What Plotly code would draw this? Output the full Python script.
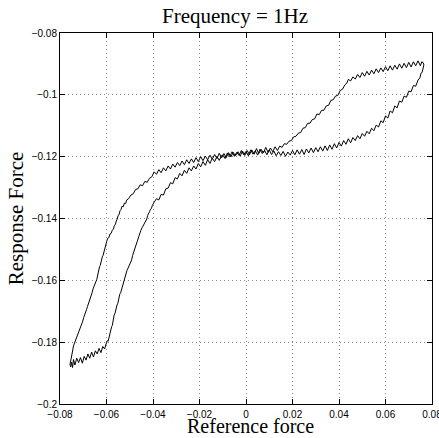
import plotly.graph_objects as go

# (reference force, response force) samples
# Lower branch: force increasing
lower_bottom = [(-0.0750, -0.1865), (-0.0746, -0.1882), (-0.0742, -0.1856), (-0.0736, -0.1874), (-0.0728, -0.1852),
                (-0.0720, -0.1866), (-0.0712, -0.1850), (-0.0704, -0.1868), (-0.0696, -0.1846), (-0.0688, -0.1858),
                (-0.0680, -0.1838), (-0.0672, -0.1852), (-0.0664, -0.1832), (-0.0656, -0.1848), (-0.0648, -0.1828),
                (-0.0640, -0.1838), (-0.0632, -0.1820), (-0.0624, -0.1834), (-0.0616, -0.1814), (-0.0608, -0.1822),
                (-0.0602, -0.1806)]
lower_rise = [(-0.0596, -0.1795), (-0.0593, -0.1797), (-0.0589, -0.1782), (-0.0586, -0.1778), (-0.0582, -0.1762),
              (-0.0578, -0.1750), (-0.0575, -0.1746), (-0.0571, -0.1722), (-0.0567, -0.1712), (-0.0563, -0.1706),
              (-0.0559, -0.1690), (-0.0555, -0.1680), (-0.0551, -0.1674), (-0.0547, -0.1655), (-0.0543, -0.1645),
              (-0.0539, -0.1640), (-0.0535, -0.1628), (-0.0531, -0.1618), (-0.0527, -0.1608), (-0.0524, -0.1595),
              (-0.0520, -0.1590), (-0.0516, -0.1575), (-0.0512, -0.1568), (-0.0507, -0.1560), (-0.0502, -0.1552),
              (-0.0497, -0.1545), (-0.0492, -0.1534), (-0.0488, -0.1520), (-0.0484, -0.1512), (-0.0479, -0.1500),
              (-0.0475, -0.1492), (-0.0470, -0.1480), (-0.0466, -0.1470), (-0.0461, -0.1458), (-0.0457, -0.1447),
              (-0.0452, -0.1438), (-0.0447, -0.1430), (-0.0442, -0.1424), (-0.0437, -0.1416), (-0.0432, -0.1410),
              (-0.0427, -0.1402), (-0.0423, -0.1390), (-0.0419, -0.1385), (-0.0415, -0.1378), (-0.0411, -0.1370),
              (-0.0407, -0.1368), (-0.0403, -0.1358), (-0.0399, -0.1351), (-0.0394, -0.1346)]
lower_bend = [(-0.0385, -0.1336), (-0.0375, -0.1340), (-0.0365, -0.1322), (-0.0355, -0.1324), (-0.0345, -0.1304),
              (-0.0335, -0.1302), (-0.0325, -0.1284), (-0.0315, -0.1288), (-0.0305, -0.1268), (-0.0295, -0.1272),
              (-0.0285, -0.1254), (-0.0275, -0.1262), (-0.0265, -0.1244), (-0.0255, -0.1254), (-0.0245, -0.1236),
              (-0.0235, -0.1246), (-0.0225, -0.1230), (-0.0215, -0.1240), (-0.0205, -0.1222), (-0.0195, -0.1233),
              (-0.0185, -0.1216), (-0.0175, -0.1228), (-0.0165, -0.1210), (-0.0155, -0.1222), (-0.0145, -0.1205),
              (-0.0135, -0.1216), (-0.0125, -0.1200), (-0.0115, -0.1212), (-0.0105, -0.1196)]
lower_middle = [(-0.0100, -0.1195), (-0.0090, -0.1206), (-0.0080, -0.1188), (-0.0070, -0.1200), (-0.0060, -0.1184),
                (-0.0050, -0.1199), (-0.0040, -0.1186), (-0.0030, -0.1196), (-0.0020, -0.1180), (-0.0010, -0.1194),
                (0.0000, -0.1183), (0.0010, -0.1197), (0.0020, -0.1178), (0.0030, -0.1192), (0.0040, -0.1181),
                (0.0050, -0.1195), (0.0060, -0.1176), (0.0070, -0.1190), (0.0080, -0.1180), (0.0090, -0.1194),
                (0.0100, -0.1178), (0.0110, -0.1193), (0.0120, -0.1182), (0.0130, -0.1197), (0.0140, -0.1184),
                (0.0150, -0.1196), (0.0160, -0.1183), (0.0170, -0.1199), (0.0180, -0.1185), (0.0190, -0.1195),
                (0.0200, -0.1180), (0.0210, -0.1194), (0.0220, -0.1178), (0.0230, -0.1192), (0.0240, -0.1177),
                (0.0250, -0.1193), (0.0260, -0.1175), (0.0270, -0.1188), (0.0280, -0.1172), (0.0290, -0.1187),
                (0.0300, -0.1171), (0.0310, -0.1184), (0.0320, -0.1168), (0.0330, -0.1182), (0.0340, -0.1165),
                (0.0350, -0.1180), (0.0360, -0.1162), (0.0370, -0.1176), (0.0380, -0.1158), (0.0390, -0.1172),
                (0.0400, -0.1154), (0.0410, -0.1166), (0.0420, -0.1148), (0.0430, -0.1160), (0.0440, -0.1142),
                (0.0450, -0.1155), (0.0460, -0.1138), (0.0470, -0.1148), (0.0480, -0.1132), (0.0490, -0.1142),
                (0.0500, -0.1125), (0.0510, -0.1134)]
lower_right = [(0.0520, -0.1118), (0.0530, -0.1126), (0.0540, -0.1108), (0.0550, -0.1116), (0.0560, -0.1098),
               (0.0570, -0.1104), (0.0580, -0.1084), (0.0590, -0.1090), (0.0600, -0.1068), (0.0610, -0.1075),
               (0.0620, -0.1052), (0.0630, -0.1058), (0.0640, -0.1036), (0.0650, -0.1042), (0.0660, -0.1020),
               (0.0670, -0.1024), (0.0680, -0.1004), (0.0690, -0.1008), (0.0700, -0.0988), (0.0710, -0.0990),
               (0.0720, -0.0970), (0.0730, -0.0972), (0.0740, -0.0952), (0.0748, -0.0945), (0.0752, -0.0932),
               (0.0758, -0.0926), (0.0762, -0.0912), (0.0765, -0.0903), (0.0762, -0.0896), (0.0756, -0.0893)]

# Upper branch: force decreasing
upper_top = [(0.0750, -0.0906), (0.0740, -0.0890), (0.0730, -0.0906), (0.0720, -0.0893), (0.0710, -0.0910),
             (0.0700, -0.0895), (0.0690, -0.0912), (0.0680, -0.0898), (0.0670, -0.0914), (0.0660, -0.0900),
             (0.0650, -0.0917), (0.0640, -0.0904), (0.0630, -0.0920), (0.0620, -0.0906), (0.0610, -0.0922),
             (0.0600, -0.0909), (0.0590, -0.0925), (0.0580, -0.0913), (0.0570, -0.0928), (0.0560, -0.0916),
             (0.0550, -0.0932), (0.0540, -0.0920), (0.0530, -0.0936), (0.0520, -0.0924), (0.0510, -0.0940),
             (0.0500, -0.0928), (0.0490, -0.0944), (0.0480, -0.0934), (0.0470, -0.0949), (0.0460, -0.0942),
             (0.0450, -0.0955), (0.0440, -0.0950), (0.0434, -0.0962)]
upper_descent = [(0.0425, -0.0968), (0.0415, -0.0982), (0.0405, -0.0986), (0.0395, -0.1002), (0.0385, -0.1004),
                 (0.0375, -0.1016), (0.0365, -0.1018), (0.0355, -0.1034), (0.0345, -0.1036), (0.0335, -0.1050),
                 (0.0325, -0.1050), (0.0315, -0.1064), (0.0305, -0.1062), (0.0295, -0.1078), (0.0285, -0.1080),
                 (0.0275, -0.1092), (0.0265, -0.1092), (0.0255, -0.1106), (0.0245, -0.1108), (0.0235, -0.1122),
                 (0.0225, -0.1124), (0.0215, -0.1134), (0.0205, -0.1136), (0.0195, -0.1148), (0.0185, -0.1150),
                 (0.0175, -0.1160), (0.0165, -0.1158), (0.0155, -0.1170), (0.0145, -0.1166)]
upper_middle = [(0.0135, -0.1180), (0.0125, -0.1168), (0.0115, -0.1184), (0.0105, -0.1172), (0.0095, -0.1186),
                (0.0085, -0.1170), (0.0075, -0.1188), (0.0065, -0.1176), (0.0055, -0.1190), (0.0045, -0.1174),
                (0.0035, -0.1192), (0.0025, -0.1178), (0.0015, -0.1194), (0.0005, -0.1180), (-0.0005, -0.1196),
                (-0.0015, -0.1182), (-0.0025, -0.1198), (-0.0035, -0.1184), (-0.0045, -0.1197), (-0.0055, -0.1186),
                (-0.0065, -0.1201), (-0.0075, -0.1187), (-0.0085, -0.1203), (-0.0095, -0.1190), (-0.0105, -0.1204),
                (-0.0115, -0.1189), (-0.0125, -0.1206), (-0.0135, -0.1193), (-0.0145, -0.1208), (-0.0155, -0.1195),
                (-0.0165, -0.1210), (-0.0175, -0.1198)]
upper_left = [(-0.0185, -0.1213), (-0.0195, -0.1200), (-0.0205, -0.1216), (-0.0215, -0.1203), (-0.0225, -0.1219),
              (-0.0235, -0.1207), (-0.0245, -0.1222), (-0.0255, -0.1210), (-0.0265, -0.1226), (-0.0275, -0.1214),
              (-0.0285, -0.1229), (-0.0295, -0.1219), (-0.0305, -0.1234), (-0.0315, -0.1224), (-0.0325, -0.1240),
              (-0.0335, -0.1230), (-0.0345, -0.1246), (-0.0355, -0.1236), (-0.0365, -0.1252), (-0.0375, -0.1242),
              (-0.0385, -0.1257), (-0.0395, -0.1249), (-0.0405, -0.1265), (-0.0415, -0.1270), (-0.0425, -0.1283),
              (-0.0435, -0.1280), (-0.0445, -0.1294), (-0.0455, -0.1291), (-0.0465, -0.1304), (-0.0475, -0.1306),
              (-0.0485, -0.1320), (-0.0495, -0.1324), (-0.0505, -0.1336)]
upper_fall = [(-0.0513, -0.1340), (-0.0518, -0.1352), (-0.0523, -0.1350), (-0.0528, -0.1362), (-0.0533, -0.1360),
              (-0.0538, -0.1372), (-0.0542, -0.1375), (-0.0546, -0.1388), (-0.0550, -0.1390), (-0.0554, -0.1402),
              (-0.0558, -0.1408), (-0.0562, -0.1420), (-0.0566, -0.1422), (-0.0570, -0.1434), (-0.0575, -0.1438),
              (-0.0580, -0.1448), (-0.0585, -0.1450), (-0.0590, -0.1462), (-0.0595, -0.1464), (-0.0599, -0.1474),
              (-0.0603, -0.1488), (-0.0606, -0.1492), (-0.0609, -0.1505), (-0.0612, -0.1508), (-0.0615, -0.1520),
              (-0.0618, -0.1524), (-0.0621, -0.1536), (-0.0624, -0.1540), (-0.0627, -0.1552), (-0.0630, -0.1556),
              (-0.0633, -0.1568), (-0.0636, -0.1572), (-0.0639, -0.1585), (-0.0642, -0.1598), (-0.0646, -0.1605),
              (-0.0650, -0.1612), (-0.0654, -0.1622), (-0.0658, -0.1628), (-0.0662, -0.1640), (-0.0666, -0.1648),
              (-0.0670, -0.1660), (-0.0674, -0.1668), (-0.0678, -0.1678), (-0.0682, -0.1685), (-0.0686, -0.1695),
              (-0.0690, -0.1702), (-0.0694, -0.1712), (-0.0698, -0.1720), (-0.0702, -0.1732), (-0.0706, -0.1740),
              (-0.0710, -0.1748), (-0.0714, -0.1755), (-0.0718, -0.1762), (-0.0722, -0.1768), (-0.0726, -0.1778),
              (-0.0730, -0.1786), (-0.0734, -0.1795), (-0.0738, -0.1800), (-0.0742, -0.1812), (-0.0745, -0.1825),
              (-0.0748, -0.1838), (-0.0752, -0.1850), (-0.0755, -0.1862), (-0.0757, -0.1872), (-0.0754, -0.1880),
              (-0.0750, -0.1865)]

x_ticks = [-0.08, -0.06, -0.04, -0.02, 0, 0.02, 0.04, 0.06, 0.08]
x_tick_labels = ["\u22120.08", "\u22120.06", "\u22120.04", "\u22120.02", "0", "0.02", "0.04", "0.06", "0.08"]
y_ticks = [-0.2, -0.18, -0.16, -0.14, -0.12, -0.1, -0.08]
y_tick_labels = ["\u22120.2", "\u22120.18", "\u22120.16", "\u22120.14", "\u22120.12", "\u22120.1", "\u22120.08"]

segments = [lower_bottom, lower_rise, lower_bend, lower_middle, lower_right,
            upper_top, upper_descent, upper_middle, upper_left, upper_fall]
loop = [p for seg in segments for p in seg]
xs = [p[0] for p in loop]
ys = [p[1] for p in loop]

fig = go.Figure()
fig.add_trace(go.Scatter(x=xs, y=ys, mode="lines",
                         line=dict(color="black", width=1), showlegend=False))

serif = "Liberation Serif, Times New Roman, serif"
sans = "Liberation Sans, Arial, sans-serif"

axis_common = dict(showline=True, linecolor="black", linewidth=1, mirror="allticks",
                   ticks="inside", ticklen=5, tickcolor="black", tickwidth=1,
                   showgrid=True, gridcolor="#8c8c8c", griddash="1px,3px", gridwidth=1,
                   zeroline=False, ticklabeloverflow="allow",
                   tickfont=dict(family=sans, size=10, color="black"))

plot_h = 438 - 33 - 34

fig.update_layout(
    width=439, height=438,
    margin=dict(l=60, r=7, t=33, b=34, autoexpand=False),
    paper_bgcolor="white", plot_bgcolor="white",
    title=dict(text="Frequency = 1Hz", x=235 / 439, xanchor="center",
               y=1 - 16 / 438, yanchor="middle",
               font=dict(family=serif, size=21, color="black")),
    xaxis=dict(range=[-0.08, 0.08], tickvals=x_ticks, ticktext=x_tick_labels,
               ticklabelstandoff=1, **axis_common),
    yaxis=dict(range=[-0.2, -0.08], tickvals=y_ticks, ticktext=y_tick_labels,
               title=dict(text="Response Force", font=dict(family=serif, size=21, color="black"),
                          standoff=2),
               **axis_common),
    annotations=[dict(text="Reference force", xref="paper", yref="paper",
                      x=0.5 + 4 / 372, y=-(438 - 404) / plot_h, xanchor="center", yanchor="bottom",
                      showarrow=False, borderpad=0,
                      font=dict(family=serif, size=20, color="black"))],
)

fig.write_html("out.html")
